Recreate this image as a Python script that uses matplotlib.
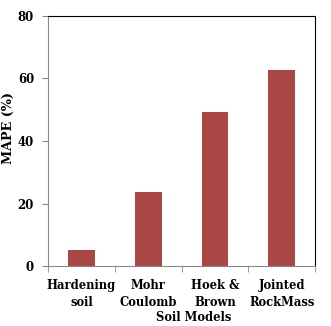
import matplotlib

matplotlib.use("Agg")
import matplotlib.pyplot as plt
import numpy as np

models = ["Hardening\nsoil", "Mohr\nCoulomb", "Hoek &\nBrown", "Jointed\nRockMass"]
mape = [5.1, 23.8, 49.4, 62.8]
y_ticks = [0, 20, 40, 60, 80]

plt.rcParams["font.family"] = ["DejaVu Serif"]
plt.rcParams["font.weight"] = "bold"

fig = plt.figure(figsize=(3.31, 3.26), dpi=100)
ax = fig.add_axes([0.145, 0.184, 0.807, 0.767])

x = np.arange(len(models))
ax.bar(x, mape, width=0.4, color="#AA4744")

ax.set_xlim(-0.5, len(models) - 0.5)
ax.set_ylim(0, 80)
ax.set_yticks(y_ticks)
ax.set_yticklabels([str(v) for v in y_ticks], fontsize=8.5, fontweight="bold")
ax.set_xticks(x)
ax.set_xticklabels(models, fontsize=8.3, fontweight="bold", linespacing=1.4)
ax.set_xticks(np.arange(-0.5, len(models)), minor=True)
ax.tick_params(axis="x", which="major", length=0, pad=9)
ax.tick_params(axis="x", which="minor", length=4, color="#888888", direction="out")
ax.tick_params(axis="y", length=4, color="#888888", direction="out", pad=6)

for side in ["left", "bottom"]:
    ax.spines[side].set_color("#888888")
for side in ["top", "right"]:
    ax.spines[side].set_color("black")

ax.set_ylabel("MAPE (%)", fontsize=9.2, fontweight="bold")
ax.yaxis.set_label_coords(-0.125, 0.55)
ax.set_xlabel("Soil Models", fontsize=8.3, fontweight="bold")
ax.xaxis.set_label_coords(0.545, -0.18)

fig.savefig("out.png", dpi=100)
plt.close(fig)
